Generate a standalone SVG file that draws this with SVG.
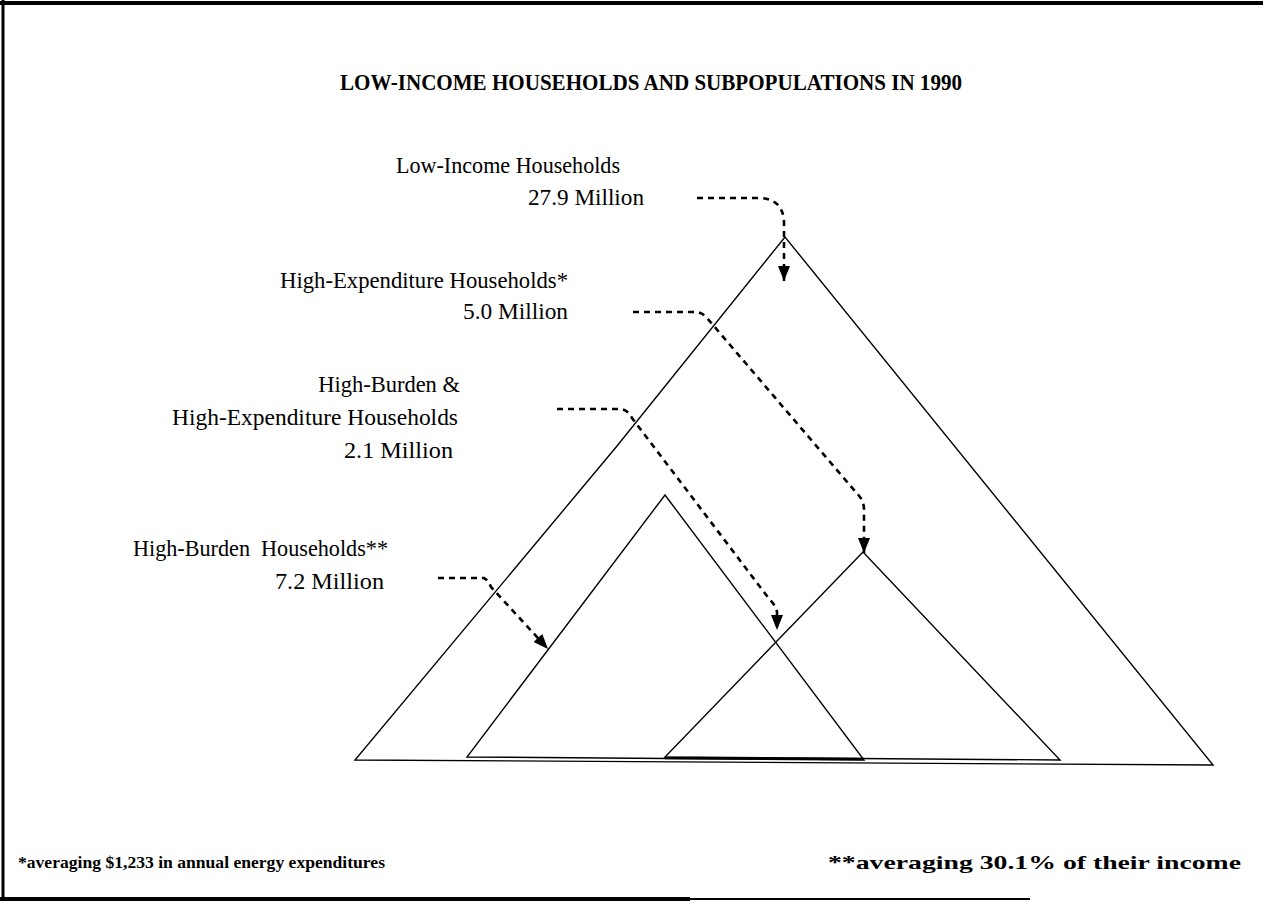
<svg xmlns="http://www.w3.org/2000/svg" width="1263" height="903" viewBox="0 0 1263 903">
<style>
.lbl{font-family:"Liberation Serif","Times New Roman",serif;font-size:22.5px;fill:#000}
.ttl{font-family:"Liberation Serif","Times New Roman",serif;font-size:23px;font-weight:bold;fill:#000}
.fn{font-family:"Liberation Serif","Times New Roman",serif;font-size:17px;font-weight:bold;fill:#000}
.fn2{font-size:19px}
.tri{fill:none;stroke:#000;stroke-width:1.4;stroke-linejoin:miter}
.dash{fill:none;stroke:#000;stroke-width:2.6;stroke-dasharray:6 5}
.frame{stroke:#000;fill:none}
</style>
<defs>
<marker id="ah" viewBox="0 0 15 12" refX="15" refY="6" markerWidth="15" markerHeight="12" markerUnits="userSpaceOnUse" orient="auto">
<path d="M0,0 L15,6 L0,12 Z" fill="#000"/>
</marker>
</defs>
<rect width="1263" height="903" fill="#fff"/>
<g id="frame">
<line class="frame" x1="0" y1="3" x2="1263" y2="3" stroke-width="4"/>
<line class="frame" x1="3" y1="0" x2="3" y2="901" stroke-width="3"/>
<line class="frame" x1="0" y1="899" x2="690" y2="899" stroke-width="4"/>
<line class="frame" x1="690" y1="899" x2="1030" y2="899" stroke-width="2" stroke="#888"/>
</g>
<text id="title" class="ttl" x="340" y="90" textLength="622" lengthAdjust="spacingAndGlyphs">LOW-INCOME HOUSEHOLDS AND SUBPOPULATIONS IN 1990</text>
<g id="low-income">
<path class="tri" d="M785,237 L617,446 L355,760 L1213,765 Z"/>
<text class="lbl" x="396" y="173" textLength="224" lengthAdjust="spacingAndGlyphs">Low-Income Households</text>
<text class="lbl" x="528" y="205" textLength="116" lengthAdjust="spacingAndGlyphs">27.9 Million</text>
</g>
<g id="high-burden">
<path class="tri" d="M665,495 L467,757 L864,760 Z"/>
<text class="lbl" x="133" y="556" textLength="255" lengthAdjust="spacingAndGlyphs" xml:space="preserve">High-Burden  Households**</text>
<text class="lbl" x="275" y="589" textLength="109" lengthAdjust="spacingAndGlyphs">7.2 Million</text>
</g>
<g id="high-expenditure">
<path class="tri" d="M863,552 L665,757 L1060,760 Z"/>
<line x1="665" y1="758" x2="864" y2="759" stroke="#000" stroke-width="2.6"/>
<text class="lbl" x="280" y="288" textLength="288" lengthAdjust="spacingAndGlyphs">High-Expenditure Households*</text>
<text class="lbl" x="463" y="319" textLength="105" lengthAdjust="spacingAndGlyphs">5.0 Million</text>
</g>
<g id="high-burden-expenditure">
<text class="lbl" x="460" y="392" text-anchor="end">High-Burden &amp;</text>
<text class="lbl" x="172" y="425" textLength="286" lengthAdjust="spacingAndGlyphs">High-Expenditure Households</text>
<text class="lbl" x="344" y="458" textLength="109" lengthAdjust="spacingAndGlyphs">2.1 Million</text>
</g>
<g id="connectors">
<path class="dash" marker-end="url(#ah)" d="M697,198 H760 Q783,199 784,222 V281"/>
<path class="dash" marker-end="url(#ah)" d="M633,312 H697 Q703,313 707,318 L860,497 Q864,502 864,510 V553"/>
<path class="dash" marker-end="url(#ah)" d="M557,409 H621 Q628,410 632,418 L770,600 Q776,606 777,612 V630"/>
<path class="dash" marker-end="url(#ah)" d="M438,578 H484 Q488,580 491,587 L548,649"/>
</g>
<g id="footnotes">
<text class="fn" x="18" y="868" textLength="367" lengthAdjust="spacingAndGlyphs">*averaging $1,233 in annual energy expenditures</text>
<text class="fn fn2" x="828" y="869" textLength="413" lengthAdjust="spacingAndGlyphs">**averaging 30.1% of their income</text>
</g>
</svg>
